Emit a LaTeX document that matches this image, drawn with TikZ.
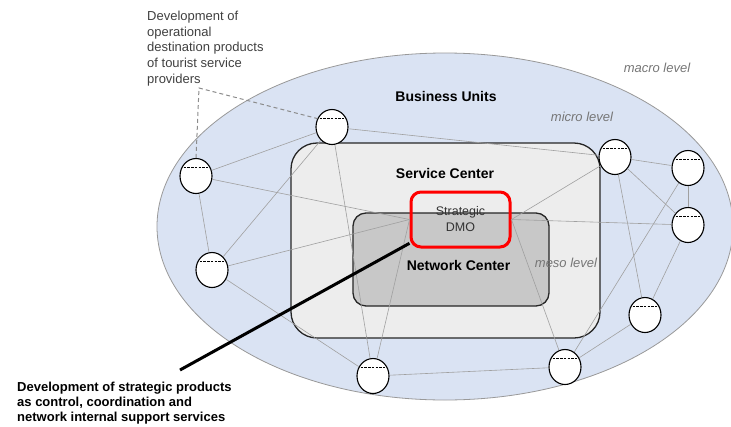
\documentclass[tikz,border=0pt]{standalone}
\usepackage{fontspec}
\setmainfont{Liberation Sans}
\usetikzlibrary{shapes.geometric}

\definecolor{macrofill}{RGB}{218,227,243}
\definecolor{servicefill}{RGB}{237,237,237}
\definecolor{networkfill}{RGB}{200,200,200}
\definecolor{linkgray}{RGB}{160,160,160}
\definecolor{levelgray}{RGB}{118,118,118}

\begin{document}
\begin{tikzpicture}[
  x=1pt, y=-1pt,
  every node/.style={font=\fontsize{13}{15.6}\selectfont},
  region/.style={draw=black!85, line width=1.3pt, inner sep=0pt},
  unit/.style={ellipse, draw, line width=1.1pt, fill=white, minimum width=32pt, minimum height=35pt, inner sep=0pt,
    path picture={\draw[line width=1.2pt, dash pattern=on 2.4pt off 1.3pt]
      ([yshift=8.5pt]path picture bounding box.west) -- ([yshift=8.5pt]path picture bounding box.east);}},
  link/.style={draw=linkgray, line width=0.6pt},
  title/.style={font=\fontsize{14}{16}\selectfont\bfseries},
  level/.style={font=\fontsize{13}{15}\selectfont\itshape, text=levelgray}
]
  \useasboundingbox (0,0) rectangle (731,426);

  % Levels
  \node[ellipse, draw=black!40, line width=0.8pt, fill=macrofill, minimum width=576pt, minimum height=347pt, inner sep=0pt] (macro) at (445,226.5) {};
  \node[region, fill=servicefill, rounded corners=26pt, minimum width=309pt, minimum height=195pt] (service) at (445.5,240.5) {};
  \node[region, fill=networkfill, rounded corners=13pt, minimum width=196pt, minimum height=93pt] (network) at (451,259.5) {};
  \node[draw=red, line width=3pt, rounded corners=10pt, minimum width=99pt, minimum height=55pt, align=center,
        text=black!80, font=\fontsize{12.5}{16}\selectfont] (dmo) at (460.5,219.5) {Strategic\\DMO};

  % Business units
  \node[unit] (u1) at (332,127) {};
  \node[unit] (u2) at (196,176) {};
  \node[unit] (u3) at (212,270) {};
  \node[unit] (u4) at (373,376) {};
  \node[unit] (u5) at (565,367) {};
  \node[unit] (u6) at (645,315) {};
  \node[unit] (u7) at (615,157) {};
  \node[unit] (u8) at (688,168) {};
  \node[unit] (u9) at (688,225) {};

  % Links
  \draw[link] (u1) -- (u2);
  \draw[link] (u1) -- (u3);
  \draw[link] (u1) -- (u4);
  \draw[link] (u1) -- (u7);
  \draw[link] (u2) -- (u3);
  \draw[link] (u3) -- (u4);
  \draw[link] (u4) -- (u5);
  \draw[link] (u5) -- (u6);
  \draw[link] (u5) -- (u8);
  \draw[link] (u6) -- (u7);
  \draw[link] (u6) -- (u9);
  \draw[link] (u7) -- (u8);
  \draw[link] (u7) -- (u9);
  \draw[link] (u8) -- (u9);
  \draw[link] (u2) -- (dmo.west);
  \draw[link] (u3) -- (dmo.west);
  \draw[link] (u4) -- (dmo.west);
  \draw[link] (u5) -- (dmo.east);
  \draw[link] (u7) -- (dmo.east);
  \draw[link] (u9) -- (dmo.east);

  % Labels
  \node[title] (bu) at (446,96.5) {Business Units};
  \node[title] (sc) at (445,173) {Service Center};
  \node[title] (nc) at (458.5,265) {Network Center};
  \node[level] (macrolbl) at (657,68) {macro level};
  \node[level] (microlbl) at (582,117) {micro level};
  \node[level] (mesolbl) at (566,263) {meso level};

  % Callouts
  \node[anchor=north west, align=left, inner sep=0pt, text=black!75] (opnote) at (147,11)
    {Development of\\operational\\destination products\\of tourist service\\providers};
  \coordinate (bend) at (199,88);
  \draw[black!45, line width=1pt, dash pattern=on 4pt off 3pt] (u2.north) -- (bend) -- (u1.150);

  \node[anchor=north west, align=left, inner sep=0pt, font=\fontsize{13}{15}\selectfont\bfseries] (stratnote) at (17,381.5)
    {Development of strategic products\\as control, coordination and\\network internal support services};
  \coordinate (foot) at (180,370);
  \draw[line width=3pt] (dmo.205) -- (foot);
\end{tikzpicture}
\end{document}
